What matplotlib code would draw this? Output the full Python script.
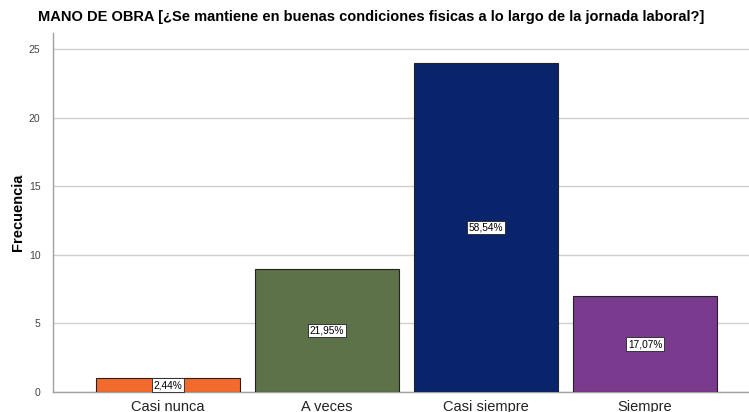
import numpy as np
import matplotlib
matplotlib.use('Agg')
import matplotlib.pyplot as plt

plt.rcParams['font.family'] = ['Liberation Sans', 'DejaVu Sans']

categories = ['Casi nunca', 'A veces', 'Casi siempre', 'Siempre']
counts = [1, 9, 24, 7]
colors = ['#F26A2C', '#5E7249', '#0A246C', '#7A3A8D']
title = 'MANO DE OBRA [¿Se mantiene en buenas condiciones fisicas a lo largo de la jornada laboral?]'

total = sum(counts)
pcts = [c / total * 100 for c in counts]

fig = plt.figure(figsize=(7.49, 4.12), dpi=100)
ax = fig.add_axes([0.0708, 0.0485, 0.9292, 0.8715])

x = np.arange(len(categories))
ax.bar(x, counts, width=0.905, color=colors, edgecolor='#222222', linewidth=0.8, zorder=3)

# percentage boxes at half bar height
for xi, c, p in zip(x, counts, pcts):
    label = f'{p:.2f}%'.replace('.', ',')
    ax.text(xi, c / 2, label, ha='center', va='center', fontsize=7.3, zorder=4,
            bbox=dict(boxstyle='square,pad=0.18', facecolor='white', edgecolor='#222222', linewidth=0.6))

ax.set_xlim(-0.723, 3.654)
ax.set_ylim(0, 26.2)
ax.set_yticks([0, 5, 10, 15, 20, 25])
ax.set_xticks(x)
ax.set_xticklabels(categories, fontsize=10.5, color='#222222')
ax.tick_params(axis='y', labelsize=7.5, colors='#444444', length=0, pad=9)
ax.tick_params(axis='x', length=0, pad=6)
ax.grid(axis='y', color='#d0d0d0', linewidth=1.0, zorder=0)

for side in ['top', 'right']:
    ax.spines[side].set_visible(False)
for side in ['left', 'bottom']:
    ax.spines[side].set_color('#a0a0a0')
    ax.spines[side].set_linewidth(1.0)

ax.set_ylabel('Frecuencia', fontsize=10.5, fontweight='bold', labelpad=3)
fig.text(0.0507, 0.958, title, fontsize=10.5, fontweight='bold', ha='left', va='center')

fig.savefig('out.png', dpi=100)
